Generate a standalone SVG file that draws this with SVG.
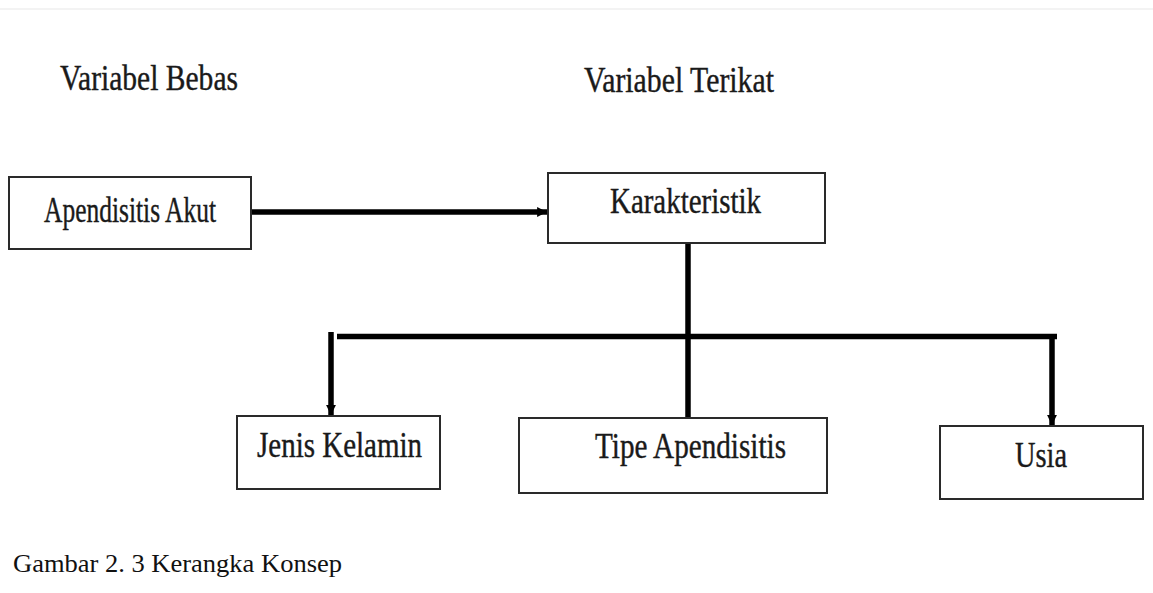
<svg xmlns="http://www.w3.org/2000/svg" width="1153" height="593" viewBox="0 0 1153 593">
  <style>
    .box { fill: #ffffff; stroke: #2a2a2a; stroke-width: 2; }
    .lbl { font-family: "Liberation Serif", "Times New Roman", serif; font-size: 35px; fill: #1a1a1a; stroke: #1a1a1a; stroke-width: 0.4; }
    .cap { font-family: "Liberation Serif", "Times New Roman", serif; font-size: 25px; fill: #111111; }
    .conn { stroke: #000000; stroke-width: 5.5; fill: none; }
  </style>
  <defs>
    <marker id="ah" viewBox="0 0 10 10" refX="10" refY="5" markerWidth="1.8" markerHeight="1.8" orient="auto" markerUnits="strokeWidth">
      <path d="M0,0 L10,5 L0,10 Z" fill="#000000"/>
    </marker>
  </defs>
  <rect x="0" y="0" width="1153" height="593" fill="#ffffff"/>
  <line x1="0" y1="9" x2="1153" y2="9" stroke="#f3f3f3" stroke-width="2"/>

  <g id="headers">
    <text class="lbl" x="60" y="90" textLength="178" lengthAdjust="spacingAndGlyphs">Variabel Bebas</text>
    <text class="lbl" x="584" y="92" textLength="190" lengthAdjust="spacingAndGlyphs">Variabel Terikat</text>
  </g>

  <g id="connectors">
    <line class="conn" x1="252" y1="212" x2="547" y2="212" marker-end="url(#ah)"/>
    <line class="conn" x1="688" y1="244" x2="688" y2="417"/>
    <line class="conn" x1="337" y1="336.5" x2="1057" y2="336.5"/>
    <line class="conn" x1="331" y1="332" x2="331" y2="415" marker-end="url(#ah)"/>
    <line class="conn" x1="1052" y1="336" x2="1052" y2="425" marker-end="url(#ah)"/>
  </g>

  <g id="node-apendisitis">
    <rect class="box" x="9" y="177" width="242" height="72"/>
    <text class="lbl" x="44" y="222" textLength="172" lengthAdjust="spacingAndGlyphs">Apendisitis Akut</text>
  </g>
  <g id="node-karakteristik">
    <rect class="box" x="548" y="173" width="277" height="70"/>
    <text class="lbl" x="610" y="213" textLength="151" lengthAdjust="spacingAndGlyphs">Karakteristik</text>
  </g>
  <g id="node-jenis">
    <rect class="box" x="237" y="416" width="203" height="73"/>
    <text class="lbl" x="257" y="457" textLength="165" lengthAdjust="spacingAndGlyphs">Jenis Kelamin</text>
  </g>
  <g id="node-tipe">
    <rect class="box" x="519" y="418" width="308" height="75"/>
    <text class="lbl" x="595" y="458" textLength="191" lengthAdjust="spacingAndGlyphs">Tipe Apendisitis</text>
  </g>
  <g id="node-usia">
    <rect class="box" x="940" y="426" width="203" height="73"/>
    <text class="lbl" x="1015" y="467" textLength="52" lengthAdjust="spacingAndGlyphs">Usia</text>
  </g>

  <text class="cap" x="13" y="572" textLength="329" lengthAdjust="spacingAndGlyphs">Gambar 2. 3 Kerangka Konsep</text>
</svg>
